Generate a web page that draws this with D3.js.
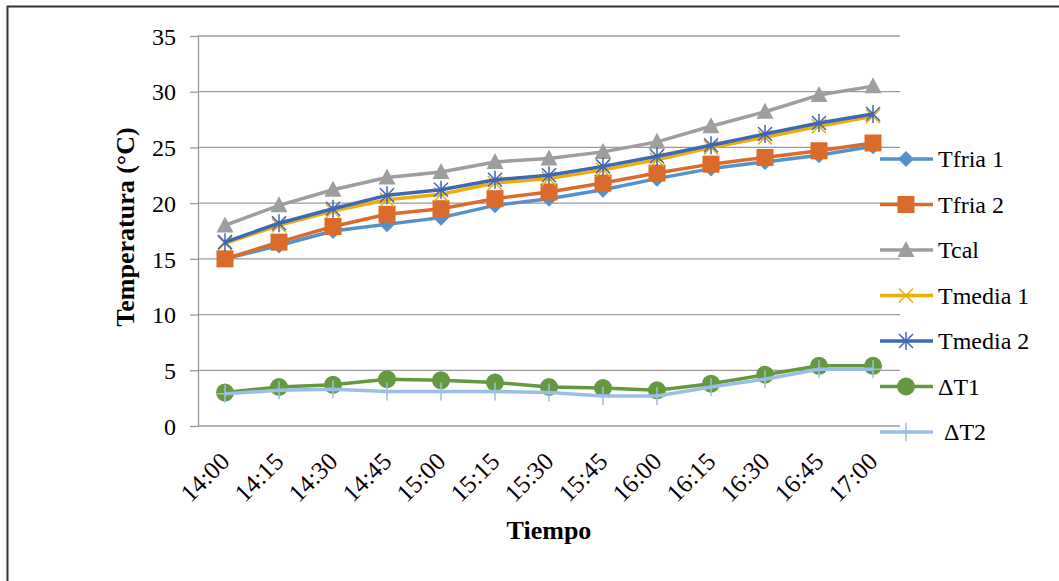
<!DOCTYPE html>
<html>
<head>
<meta charset="utf-8">
<script src="https://cdn.jsdelivr.net/npm/d3@7"></script>
<style>
  html, body { margin: 0; padding: 0; background: #fff; }
  svg { display: block; }
  svg text { font-family: "Liberation Serif", "Times New Roman", serif !important; fill: #000; }
</style>
</head>
<body>
<svg id="chart" width="1059" height="581"></svg>
<script>
// Time of each reading
const times = ["14:00","14:15","14:30","14:45","15:00","15:15","15:30","15:45","16:00","16:15","16:30","16:45","17:00"];

// Temperatures (°C)
const tfria1  = [15.0, 16.2, 17.5, 18.1, 18.7, 19.8, 20.4, 21.2, 22.2, 23.1, 23.7, 24.3, 25.1];
const tfria2  = [15.0, 16.5, 17.9, 19.0, 19.5, 20.4, 21.0, 21.8, 22.7, 23.5, 24.1, 24.7, 25.4];
const tcal    = [18.0, 19.8, 21.2, 22.3, 22.8, 23.7, 24.0, 24.6, 25.5, 26.9, 28.2, 29.7, 30.5];
const tmedia1 = [16.4, 18.0, 19.3, 20.3, 20.8, 21.8, 22.2, 23.0, 23.9, 25.0, 25.9, 26.9, 27.8];
const tmedia2 = [16.5, 18.2, 19.5, 20.7, 21.2, 22.1, 22.5, 23.3, 24.2, 25.2, 26.2, 27.2, 28.0];
const dT1     = [3.0, 3.5, 3.7, 4.2, 4.1, 3.9, 3.5, 3.4, 3.2, 3.8, 4.6, 5.4, 5.4];
const dT2     = [2.9, 3.2, 3.3, 3.1, 3.1, 3.1, 3.0, 2.7, 2.7, 3.5, 4.2, 5.1, 5.1];

const yTicks = [0, 5, 10, 15, 20, 25, 30, 35];

const series = [
  { name: "Tfria 1",   values: tfria1,  color: "#5591CC", marker: "diamond" },
  { name: "Tfria 2",   values: tfria2,  color: "#DB6B2B", marker: "square" },
  { name: "Tcal",      values: tcal,    color: "#9E9E9E", marker: "triangle" },
  { name: "Tmedia 1",  values: tmedia1, color: "#EBAE0A", marker: "x" },
  { name: "Tmedia 2",  values: tmedia2, color: "#3E67B5", marker: "star" },
  { name: "\u0394T1",  values: dT1,     color: "#64993F", marker: "circle" },
  { name: "\u0394T2",  values: dT2,     color: "#9BBFE4", marker: "plus" }
];

const svg = d3.select("#chart");
const plot = { left: 198, right: 900, top: 36, bottom: 426 };

// outer frame (open on the right and bottom)
svg.append("path")
  .attr("d", "M7.5,581 L7.5,6.5 L1059,6.5")
  .attr("fill", "none").attr("stroke", "#333").attr("stroke-width", 2);

const x = d3.scaleBand().domain(times).range([plot.left, plot.right]);
const y = d3.scaleLinear().domain([0, 35]).range([plot.bottom, plot.top]);

// gridlines
svg.append("g").selectAll("line").data(yTicks).join("line")
  .attr("x1", plot.left).attr("x2", plot.right)
  .attr("y1", d => y(d)).attr("y2", d => y(d))
  .attr("stroke", "#9a9a9a").attr("stroke-width", 1.3);

// y axis
const yAxis = svg.append("g").attr("transform", `translate(${plot.left},0)`)
  .call(d3.axisLeft(y).tickValues(yTicks).tickSize(8).tickPadding(14).tickSizeOuter(0));
yAxis.select(".domain").attr("stroke", "#9a9a9a").attr("stroke-width", 1.3);
yAxis.selectAll(".tick line").attr("stroke", "#9a9a9a").attr("stroke-width", 1.3);
yAxis.selectAll(".tick text").attr("font-size", 24).attr("dy", "0.34em");

// x axis labels (no axis line drawn; the zero gridline serves as baseline)
const xAxis = svg.append("g").attr("transform", `translate(0,${plot.bottom})`)
  .call(d3.axisBottom(x).tickSize(0).tickPadding(0));
xAxis.select(".domain").remove();
xAxis.selectAll(".tick text")
  .attr("font-size", 25)
  .attr("text-anchor", "end")
  .attr("dy", 0)
  .attr("transform", "translate(6,37) rotate(-45)");

// axis titles
svg.append("text")
  .attr("transform", `translate(134,227) rotate(-90)`)
  .attr("text-anchor", "middle")
  .attr("font-size", 26).attr("font-weight", "bold")
  .text("Temperatura (\u00B0C)");
svg.append("text")
  .attr("x", 549).attr("y", 539)
  .attr("text-anchor", "middle")
  .attr("font-size", 26).attr("font-weight", "bold")
  .text("Tiempo");

// marker drawing
function drawMarker(g, type, color) {
  switch (type) {
    case "diamond":
      g.append("path").attr("d", "M0,-8 L8,0 L0,8 L-8,0Z").attr("fill", color); break;
    case "square":
      g.append("rect").attr("x", -8.5).attr("y", -8.5).attr("width", 17).attr("height", 17).attr("fill", color); break;
    case "triangle":
      g.append("path").attr("d", "M0,-9 L8.5,7 L-8.5,7Z").attr("fill", color); break;
    case "circle":
      g.append("circle").attr("r", 9).attr("fill", color); break;
    case "x":
      g.append("path").attr("d", "M-7,-7 L7,7 M-7,7 L7,-7").attr("stroke", color).attr("stroke-width", 1.5); break;
    case "star":
      g.append("path").attr("d", "M-7,-7 L7,7 M-7,7 L7,-7 M0,-9 L0,9").attr("stroke", color).attr("stroke-width", 1.5); break;
    case "plus":
      g.append("path").attr("d", "M-8,0 L8,0 M0,-9 L0,9").attr("stroke", color).attr("stroke-width", 1.5); break;
  }
}

const line = d3.line()
  .x((d, i) => x(times[i]) + x.bandwidth() / 2)
  .y(d => y(d));

series.forEach(s => {
  const g = svg.append("g");
  g.append("path").datum(s.values)
    .attr("d", line).attr("fill", "none")
    .attr("stroke", s.color).attr("stroke-width", 3.5)
    .attr("stroke-linejoin", "round");
  s.values.forEach((v, i) => {
    const m = g.append("g").attr("transform",
      `translate(${x(times[i]) + x.bandwidth() / 2},${y(v)})`);
    drawMarker(m, s.marker, s.color);
  });
});

// legend
const legend = svg.append("g").attr("transform", "translate(880,159)");
series.forEach((s, i) => {
  const row = legend.append("g").attr("transform", `translate(0,${i * 45.5})`);
  row.append("line").attr("x1", 0).attr("x2", 53).attr("y1", 0).attr("y2", 0)
    .attr("stroke", s.color).attr("stroke-width", 3.5);
  drawMarker(row.append("g").attr("transform", "translate(26,0)"), s.marker, s.color);
  row.append("text").attr("x", i === 6 ? 64 : 58).attr("y", 8)
    .attr("font-size", 24)
    .text(s.name);
});
</script>
</body>
</html>
